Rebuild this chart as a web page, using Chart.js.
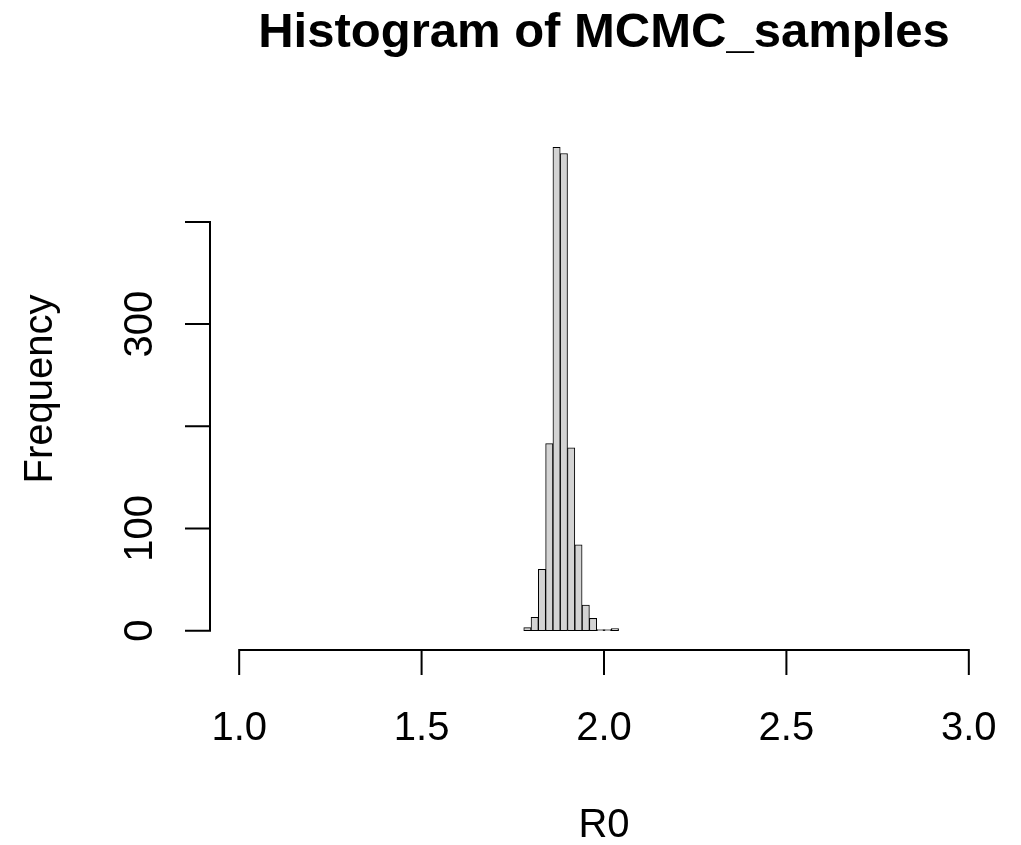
<!DOCTYPE html>
<html lang="en">
<head>
<meta charset="UTF-8">
<title>Histogram of MCMC_samples</title>
<script src="https://cdn.jsdelivr.net/npm/chart.js@4"></script>
<style>
  body { margin: 0; background: #fff; }
  #wrap { width: 1021px; height: 845px; }
</style>
</head>
<body>
<div id="wrap"><canvas id="hist" width="1021" height="845"></canvas></div>
<script>
// histogram bins (width 0.02)
const binMids = [1.79, 1.81, 1.83, 1.85, 1.87, 1.89, 1.91, 1.93, 1.95, 1.97, 1.99, 2.01, 2.03];
const counts  = [3, 13, 60, 183, 473, 467, 179, 84, 25, 12, 1, 1, 2];

// axis ticks
const xTicks = [1.0, 1.5, 2.0, 2.5, 3.0];
const xTickLabels = ['1.0', '1.5', '2.0', '2.5', '3.0'];
const yTicks = [0, 100, 200, 300, 400];
const yTickLabels = ['0', '100', '', '300', ''];   // R drops the labels that would collide

const xLim = [1, 3];
const yLim = [0, Math.max(...counts)];

// R style: axis range padded by 4% each side
const pad = (lim) => { const d = (lim[1] - lim[0]) * 0.04; return [lim[0] - d, lim[1] + d]; };
const xr = pad(xLim), yr = pad(yLim);

const FONT = '"Liberation Sans", Arial, sans-serif';

// draws the detached R axes, tick labels and axis titles from the chart scales
const rAxes = {
  id: 'rAxes',
  afterDraw(chart) {
    const ctx = chart.ctx;
    const sx = chart.scales.x, sy = chart.scales.y, area = chart.chartArea;
    ctx.save();
    ctx.strokeStyle = '#000';
    ctx.fillStyle = '#000';
    ctx.lineWidth = 2;
    ctx.lineCap = 'butt';

    // x axis
    const yb = area.bottom;
    ctx.beginPath();
    ctx.moveTo(sx.getPixelForValue(xTicks[0]) - 1, yb);
    ctx.lineTo(sx.getPixelForValue(xTicks[xTicks.length - 1]) + 1, yb);
    xTicks.forEach(v => {
      const px = sx.getPixelForValue(v);
      ctx.moveTo(px, yb);
      ctx.lineTo(px, yb + 25);
    });
    ctx.stroke();

    // y axis
    const xl = area.left;
    ctx.beginPath();
    ctx.moveTo(xl, sy.getPixelForValue(yTicks[0]) + 1);
    ctx.lineTo(xl, sy.getPixelForValue(yTicks[yTicks.length - 1]) - 1);
    yTicks.forEach(v => {
      const py = sy.getPixelForValue(v);
      ctx.moveTo(xl, py);
      ctx.lineTo(xl - 25, py);
    });
    ctx.stroke();

    ctx.font = '40px ' + FONT;
    ctx.textAlign = 'center';
    ctx.textBaseline = 'alphabetic';
    xTicks.forEach((v, i) => {
      ctx.fillText(xTickLabels[i], sx.getPixelForValue(v), yb + 90);
    });
    yTicks.forEach((v, i) => {
      if (!yTickLabels[i]) return;
      ctx.save();
      ctx.translate(xl - 58, sy.getPixelForValue(v));
      ctx.rotate(-Math.PI / 2);
      ctx.fillText(yTickLabels[i], 0, 0);
      ctx.restore();
    });

    // axis titles
    const cx = (area.left + area.right) / 2;
    const cy = (area.top + area.bottom) / 2;
    ctx.fillText('R0', cx, yb + 187);
    ctx.save();
    ctx.translate(xl - 158, cy);
    ctx.rotate(-Math.PI / 2);
    ctx.fillText('Frequency', 0, 0);
    ctx.restore();
    ctx.restore();
  }
};

new Chart(document.getElementById('hist'), {
  type: 'bar',
  data: {
    datasets: [{
      data: binMids.map((m, i) => ({ x: m, y: counts[i] })),
      backgroundColor: '#d3d3d3',
      borderColor: '#000',
      borderWidth: 1,
      borderSkipped: false,
      barThickness: 'flex',
      barPercentage: 1,
      categoryPercentage: 1
    }]
  },
  options: {
    responsive: false,
    animation: false,
    layout: { padding: { left: 210, right: 23, top: 0, bottom: 195 } },
    scales: {
      x: { type: 'linear', min: xr[0], max: xr[1], offset: false, display: false },
      y: { type: 'linear', min: yr[0], max: yr[1], display: false }
    },
    plugins: {
      legend: { display: false },
      tooltip: { enabled: false },
      title: {
        display: true,
        text: 'Histogram of MCMC_samples',
        color: '#000',
        font: { family: FONT, size: 49, weight: 'bold', lineHeight: 1.2 },
        padding: { top: 4, bottom: 65.2 }
      }
    }
  },
  plugins: [rAxes]
});
</script>
</body>
</html>
